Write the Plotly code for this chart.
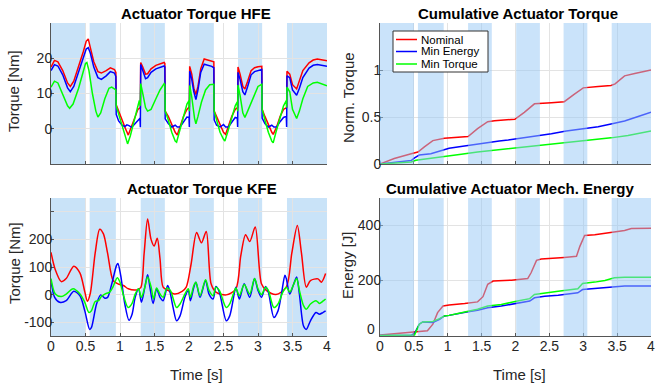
import plotly.graph_objects as go

# ---------------- data ----------------
series_names = ["Nominal", "Min Energy", "Min Torque"]
series_colors = ["#ff0000", "#0000ff", "#00ff00"]

stance_start = [0.0, 0.56, 1.30, 2.01, 2.71, 3.42]
stance_end = [0.50, 0.94, 1.65, 2.36, 3.06, 4.00]

x_ticks = [0, 0.5, 1, 1.5, 2, 2.5, 3, 3.5, 4]

# Actuator Torque HFE [Nm]
hfe_nom_t = [0.00, 0.05, 0.10, 0.17, 0.24, 0.28, 0.33, 0.40, 0.47, 0.51, 0.54, 0.57, 0.62, 0.68, 0.73, 0.80, 0.86, 0.92, 0.94,
             0.945, 0.98, 1.03, 1.08, 1.12, 1.17, 1.22, 1.26, 1.295,
             1.30, 1.33, 1.37, 1.40, 1.45, 1.52, 1.58, 1.64, 1.65,
             1.655, 1.70, 1.75, 1.80, 1.83, 1.87, 1.92, 1.97, 2.005,
             2.01, 2.04, 2.07, 2.10, 2.13, 2.17, 2.22, 2.28, 2.33, 2.36,
             2.365, 2.40, 2.45, 2.50, 2.53, 2.57, 2.62, 2.67, 2.705,
             2.71, 2.74, 2.78, 2.81, 2.85, 2.90, 2.95, 3.00, 3.055,
             3.06, 3.10, 3.15, 3.20, 3.22, 3.27, 3.32, 3.37, 3.415,
             3.42, 3.46, 3.50, 3.56, 3.60, 3.65, 3.74, 3.80, 3.86, 3.93, 4.00]
hfe_nom = [17.5, 19.4, 19.0, 16.5, 13.0, 12.0, 13.5, 17.5, 22.0, 24.8, 25.5, 23.0, 19.0, 16.2, 15.8, 16.5, 17.3, 16.8, 16.0,
           6.8, 5.0, 2.0, 0.0, -1.8, 1.0, 3.5, 5.5, 6.0,
           18.8, 17.5, 15.5, 15.6, 17.0, 18.0, 18.5, 18.8, 18.5,
           5.0, 3.5, 1.0, -1.0, -1.8, 0.5, 3.5, 5.5, 6.2,
           17.7, 15.5, 11.5, 9.7, 12.0, 17.0, 19.8, 19.5, 19.2, 19.0,
           5.0, 3.5, 1.0, -1.0, -1.6, 0.5, 3.5, 5.5, 6.0,
           17.5, 15.5, 12.0, 11.3, 13.5, 16.5, 17.3, 17.6, 17.7,
           5.5, 3.5, 1.0, -1.0, -1.6, 0.5, 3.5, 5.5, 6.0,
           16.3, 15.5, 12.5, 11.3, 13.5, 16.5, 18.7, 19.5, 19.8, 19.6, 19.3]

hfe_men_t = [0.00, 0.05, 0.10, 0.17, 0.24, 0.28, 0.33, 0.40, 0.47, 0.51, 0.54, 0.57, 0.62, 0.68, 0.73, 0.80, 0.86, 0.92, 0.94,
             0.945, 0.98, 1.03, 1.07, 1.10, 1.13, 1.17, 1.22, 1.27, 1.29, 1.295,
             1.30, 1.33, 1.37, 1.40, 1.45, 1.52, 1.58, 1.64, 1.65,
             1.655, 1.70, 1.75, 1.80, 1.83, 1.87, 1.92, 1.97, 2.00, 2.005,
             2.01, 2.04, 2.07, 2.10, 2.13, 2.17, 2.22, 2.28, 2.33, 2.36,
             2.365, 2.40, 2.45, 2.50, 2.53, 2.57, 2.62, 2.67, 2.70, 2.705,
             2.71, 2.74, 2.78, 2.81, 2.85, 2.90, 2.95, 3.00, 3.055,
             3.06, 3.10, 3.15, 3.20, 3.23, 3.27, 3.32, 3.37, 3.41, 3.415,
             3.42, 3.46, 3.50, 3.56, 3.60, 3.65, 3.74, 3.80, 3.86, 3.93, 4.00]
hfe_men = [16.5, 18.2, 17.8, 15.3, 11.6, 10.5, 12.0, 16.0, 20.5, 22.6, 23.0, 21.5, 17.5, 14.5, 14.0, 15.0, 16.2, 15.8, 14.8,
           4.1, 2.2, 1.0, 0.6, 1.1, 0.9, 0.4, 1.5, 2.8, 3.0, 0.4,
           18.2, 16.5, 14.2, 14.5, 16.0, 17.0, 17.5, 17.8, 17.5,
           2.8, 1.5, 0.5, 1.0, 0.5, 0.5, 2.0, 3.3, 3.2, 0.5,
           16.3, 14.0, 10.5, 8.3, 11.0, 16.0, 18.3, 18.0, 17.7, 17.3,
           2.5, 1.0, 0.5, 1.2, 0.5, 0.5, 2.0, 3.2, 3.0, 0.5,
           16.0, 14.0, 10.5, 9.6, 12.0, 15.3, 16.2, 16.5, 16.8,
           3.0, 1.5, 0.5, 1.0, 0.5, 0.5, 2.0, 3.2, 3.5, 0.5,
           15.0, 14.5, 11.0, 9.5, 11.5, 14.5, 17.2, 18.0, 18.2, 17.9, 17.7]

hfe_mtq_t = [0.00, 0.05, 0.10, 0.17, 0.24, 0.27, 0.32, 0.40, 0.46, 0.50, 0.52, 0.55, 0.60, 0.65, 0.68, 0.72, 0.78, 0.84, 0.88, 0.94,
             0.945, 1.00, 1.05, 1.09, 1.11, 1.15, 1.20, 1.25, 1.28, 1.295,
             1.30, 1.33, 1.37, 1.40, 1.45, 1.52, 1.58, 1.64, 1.65,
             1.655, 1.70, 1.75, 1.80, 1.82, 1.86, 1.92, 1.97, 2.00, 2.005,
             2.01, 2.04, 2.08, 2.10, 2.13, 2.18, 2.24, 2.30, 2.36,
             2.365, 2.40, 2.45, 2.50, 2.52, 2.56, 2.62, 2.67, 2.70, 2.705,
             2.71, 2.74, 2.78, 2.81, 2.85, 2.90, 2.96, 3.00, 3.055,
             3.06, 3.10, 3.15, 3.20, 3.22, 3.26, 3.32, 3.37, 3.41, 3.415,
             3.42, 3.46, 3.50, 3.56, 3.60, 3.65, 3.72, 3.80, 3.86, 3.93, 4.00]
hfe_mtq = [11.8, 13.5, 13.0, 10.0, 6.5, 5.8, 7.0, 11.5, 15.5, 18.5, 18.8, 16.5, 10.0, 5.0, 3.3, 4.5, 8.5, 11.5, 11.8, 11.0,
           6.5, 3.0, 0.0, -3.0, -4.3, -2.0, 2.0, 6.0, 8.0, 6.5,
           12.8, 10.0, 6.0, 5.0, 5.5, 8.5, 11.0, 12.8, 12.5,
           5.0, 2.5, -1.0, -3.5, -3.8, -1.0, 3.5, 7.0, 8.0, 5.0,
           12.3, 9.0, 3.0, 1.4, 3.5, 7.5, 11.0, 12.5, 12.6,
           5.0, 2.5, -1.0, -3.0, -3.5, -1.0, 3.5, 6.5, 7.6, 5.0,
           12.4, 9.5, 4.5, 3.2, 5.0, 7.5, 10.5, 12.0, 12.6,
           5.5, 2.5, -1.0, -3.5, -4.0, -1.0, 3.5, 6.5, 8.0, 6.0,
           11.8, 10.5, 5.5, 2.9, 5.0, 8.5, 12.0, 13.0, 13.2, 12.6, 12.2]

# Actuator Torque KFE [Nm]
kfe_nom_t = [0.00, 0.06, 0.15, 0.22, 0.33, 0.42, 0.49, 0.527, 0.57, 0.64, 0.706, 0.76, 0.82, 0.90, 0.97, 1.05, 1.12, 1.24,
             1.30, 1.35, 1.40, 1.45, 1.495, 1.54, 1.58, 1.625, 1.70, 1.79, 1.90, 1.96, 2.03, 2.11, 2.18, 2.25, 2.32,
             2.39, 2.54, 2.68, 2.75, 2.82, 2.88, 2.96, 3.05, 3.12, 3.26, 3.41, 3.49, 3.57, 3.63, 3.70, 3.76, 3.87,
             3.92, 3.98]
kfe_nom = [153, 92, 47, 58, 103, 78, 10, -24, 5, 150, 237, 220, 150, 51, 39, 33, 21, 17,
           25, 150, 274, 200, 176, 204, 130, 27, 15, 2, 12, 27, 110, 225, 188, 229, 39,
           9, -1, 21, 140, 217, 192, 245, 39, 15, 0, 27, 150, 250, 150, 27, 51, 57,
           45, 76]

kfe_men_t = [0.00, 0.053, 0.126, 0.22, 0.33, 0.42, 0.49, 0.56, 0.585, 0.66, 0.72, 0.78, 0.82, 0.875, 0.95, 0.97, 1.01,
             1.07, 1.13, 1.175, 1.22, 1.27, 1.31, 1.36, 1.40, 1.43, 1.48, 1.53, 1.58, 1.625, 1.69, 1.72, 1.77, 1.82,
             1.87, 1.94, 1.99, 2.02, 2.07, 2.10, 2.16, 2.24, 2.29, 2.35, 2.39, 2.44, 2.54, 2.59, 2.66, 2.68, 2.73,
             2.80, 2.88, 2.95, 3.00, 3.05, 3.11, 3.15, 3.23, 3.29, 3.34, 3.39, 3.41, 3.46, 3.51, 3.56, 3.60, 3.66,
             3.70, 3.76, 3.84, 3.89, 3.94, 3.98]
kfe_men = [51, -10, -28, -22, 12, -4, -59, -126, -120, -34, -1, -13, -10, 33, 106, 113, 70,
           -34, -93, -71, -10, 21, -28, 27, 72, 33, -32, 21, -10, -22, 33, 15, -47, -95,
           -77, -10, 15, -22, 27, 45, -10, 51, 2, -16, 29, 9, -95, -77, 9, 27, -16,
           39, -10, 58, 15, -10, 29, 9, -83, -59, 2, 70, 58, 2, 33, 64, 2, -114,
           -126, -95, -65, -71, -65, -59]

kfe_mtq_t = [0.00, 0.063, 0.15, 0.22, 0.32, 0.42, 0.49, 0.55, 0.585, 0.64, 0.69, 0.73, 0.78, 0.85, 0.90, 0.96, 1.00,
             1.045, 1.117, 1.175, 1.22, 1.27, 1.31, 1.36, 1.40, 1.45, 1.485, 1.53, 1.58, 1.625, 1.68, 1.73, 1.82,
             1.87, 1.94, 1.99, 2.02, 2.07, 2.10, 2.16, 2.24, 2.29, 2.35, 2.39, 2.44, 2.54, 2.59, 2.66, 2.68, 2.73,
             2.80, 2.88, 2.95, 3.00, 3.05, 3.11, 3.15, 3.23, 3.29, 3.36, 3.41, 3.46, 3.51, 3.56, 3.60, 3.66, 3.70,
             3.76, 3.84, 3.89, 3.94, 3.98]
kfe_mtq = [58, 2, -7, 2, 21, 2, -28, -65, -59, -25, -22, -7, 2, 9, 29, 61, 45,
           2, -47, -32, 2, 21, -10, 27, 64, 29, -16, 24, 2, -10, 24, 15, -47,
           -34, 2, 21, -10, 33, 45, -4, 54, 15, -4, 27, 15, -47, -34, 15, 24, -4,
           37, 2, 58, 21, 0, 27, 15, -47, -34, 9, 27, 9, 33, 58, 15, -40, -53,
           -34, -22, -32, -24, -16]

# Cumulative Actuator Torque [normalised]
ctq_nom_t = [0, 0.21, 0.46, 0.56, 0.655, 0.78, 0.95, 1.15, 1.30, 1.44, 1.59, 1.69, 1.99, 2.13, 2.28, 2.53, 2.72,
             2.87, 3.00, 3.22, 3.41, 3.47, 3.61, 3.76, 3.95, 4.0]
ctq_nom = [0, 0.059, 0.11, 0.128, 0.183, 0.249, 0.275, 0.286, 0.293, 0.377, 0.45, 0.46, 0.476, 0.55, 0.64, 0.652, 0.663,
           0.744, 0.81, 0.824, 0.835, 0.853, 0.938, 0.963, 0.99, 1.0]
ctq_men_t = [0, 0.21, 0.46, 0.51, 0.58, 0.75, 0.93, 1.02, 1.17, 1.30, 1.49, 1.67, 1.76, 1.89, 2.03, 2.28, 2.53, 2.75,
             2.97, 3.22, 3.41, 3.61, 3.81, 4.0]
ctq_men = [0, 0.015, 0.037, 0.066, 0.095, 0.11, 0.147, 0.168, 0.183, 0.198, 0.22, 0.238, 0.245, 0.256, 0.27, 0.293,
           0.322, 0.352, 0.374, 0.396, 0.425, 0.458, 0.505, 0.55]
ctq_mtq_t = [0, 0.46, 0.53, 0.75, 0.95, 1.20, 1.44, 1.69, 1.94, 2.18, 2.43, 2.67, 2.92, 3.17, 3.41, 3.66, 4.0]
ctq_mtq = [0, 0.022, 0.04, 0.059, 0.077, 0.103, 0.128, 0.147, 0.165, 0.183, 0.20, 0.22, 0.242, 0.26, 0.278, 0.304, 0.35]

# Cumulative Actuator Mech. Energy [J]
cen_nom_t = [0, 0.26, 0.48, 0.70, 0.78, 0.85, 0.93, 1.02, 1.25, 1.44, 1.52, 1.59, 1.67, 1.94, 2.18, 2.23, 2.31, 2.38,
             2.72, 2.90, 2.95, 3.02, 3.17, 3.32, 3.41, 3.61, 3.71, 4.0]
cen_nom = [2, 8, 13, 17, 41, 83, 107, 111, 116, 122, 141, 186, 198, 201, 207, 228, 273, 278,
           284, 288, 324, 364, 366, 372, 376, 382, 389, 390]
cen_men_t = [0, 0.46, 0.51, 0.58, 0.63, 0.78, 0.88, 0.95, 1.02, 1.15, 1.30, 1.44, 1.59, 1.79, 2.03, 2.21, 2.28, 2.43,
             2.63, 2.92, 2.99, 3.17, 3.32, 3.46, 3.61, 4.0]
cen_men = [0, 0, 8, 41, 49, 47, 59, 71, 73, 80, 86, 92, 101, 107, 116, 125, 137, 143,
           146, 155, 167, 170, 173, 176, 180, 180]
cen_mtq_t = [0, 0.46, 0.51, 0.58, 0.63, 0.78, 0.88, 0.95, 1.02, 1.15, 1.30, 1.44, 1.59, 1.79, 2.03, 2.21, 2.28, 2.43,
             2.63, 2.92, 2.99, 3.17, 3.32, 3.46, 3.61, 4.0]
cen_mtq = [0, 0, 2, 41, 49, 51, 61, 71, 73, 80, 87, 95, 107, 113, 125, 134, 149, 155,
           161, 170, 189, 194, 200, 210, 212, 212]

# ---------------- figure ----------------
W, H = 656, 383
FONT = "Liberation Sans, Arial, Helvetica, sans-serif"
TXT = "#262626"


def fx(p):
    return p / W


def fy(p):
    return 1 - p / H


fig = go.Figure()

panels = [
    ("x", "y", [(hfe_nom_t, hfe_nom), (hfe_men_t, hfe_men), (hfe_mtq_t, hfe_mtq)], "linear", "below"),
    ("x2", "y2", [(ctq_nom_t, ctq_nom), (ctq_men_t, ctq_men), (ctq_mtq_t, ctq_mtq)], "linear", "above"),
    ("x3", "y3", [(kfe_nom_t, kfe_nom), (kfe_men_t, kfe_men), (kfe_mtq_t, kfe_mtq)], "spline", "below"),
    ("x4", "y4", [(cen_nom_t, cen_nom), (cen_men_t, cen_men), (cen_mtq_t, cen_mtq)], "linear", "above"),
]

shapes = []
for xa, ya, series, shape, layer in panels:
    for (tt, vv), name, col in zip(series, series_names, series_colors):
        line = dict(color=col, width=1.5, shape=shape)
        if shape == "spline":
            line["smoothing"] = 0.8
        fig.add_trace(go.Scatter(x=tt, y=vv, mode="lines", name=name, xaxis=xa, yaxis=ya,
                                 line=line, showlegend=False, hoverinfo="skip"))
    for s0, s1 in zip(stance_start, stance_end):
        if layer == "below":
            shapes.append(dict(type="rect", xref=xa, yref=ya + " domain", x0=s0, x1=s1, y0=0, y1=1,
                               fillcolor="#c9e3f8", line=dict(width=0), layer="below"))
        else:
            shapes.append(dict(type="rect", xref=xa, yref=ya + " domain", x0=s0, x1=s1, y0=0, y1=1,
                               fillcolor="rgb(150,200,245)", opacity=0.5, line=dict(width=0), layer="above"))

# custom legend (top-right panel)
shapes.append(dict(type="rect", xref="paper", yref="paper", x0=fx(393), x1=fx(488), y0=fy(72), y1=fy(31),
                   fillcolor="white", line=dict(color="#333333", width=1), layer="above"))
annotations = []
for i, (name, col) in enumerate(zip(series_names, series_colors)):
    yy = [39.5, 51.5, 64][i]
    shapes.append(dict(type="line", xref="paper", yref="paper", x0=fx(396), x1=fx(417), y0=fy(yy), y1=fy(yy),
                       line=dict(color=col, width=1.5), layer="above"))
    annotations.append(dict(xref="paper", yref="paper", x=fx(419), y=fy(yy), text=name, showarrow=False,
                            xanchor="left", yanchor="middle", font=dict(family=FONT, size=11.5, color="#000000")))

# titles
for txt, cx, cy in [("Actuator Torque HFE", 196, 13), ("Cumulative Actuator Torque", 518, 13),
                    ("Actuator Torque KFE", 202, 188), ("Cumulative Actuator Mech. Energy", 510, 188)]:
    annotations.append(dict(xref="paper", yref="paper", x=fx(cx), y=fy(cy), text="<b>%s</b>" % txt,
                            showarrow=False, xanchor="center", yanchor="middle",
                            font=dict(family=FONT, size=15, color="#000000")))
# axis labels
for txt, cx, cy, ang in [("Torque [Nm]", 14, 91, -90), ("Norm. Torque", 349, 98, -90),
                         ("Torque [Nm]", 14, 263, -90), ("Energy [J]", 347, 265, -90),
                         ("Time [s]", 196, 374, 0), ("Time [s]", 519, 374, 0)]:
    annotations.append(dict(xref="paper", yref="paper", x=fx(cx), y=fy(cy), text=txt, showarrow=False,
                            xanchor="center", yanchor="middle", textangle=ang,
                            font=dict(family=FONT, size=15, color=TXT)))
# the energy axis "0" label sits slightly raised in the reference (clear of the time-axis "0")
annotations.append(dict(xref="paper", yref="paper", x=fx(377), y=fy(329), text="0", showarrow=False,
                        xanchor="right", yanchor="middle", font=dict(family=FONT, size=14, color=TXT)))

xdom_l = [fx(51), fx(327)]
xdom_r = [fx(380), fx(651)]
ydom_t = [fy(164), fy(23)]
ydom_b = [fy(336), fy(198)]

axis_common = dict(showline=True, linecolor="#555555", linewidth=1, ticks="inside", ticklen=3,
                   tickcolor="#555555", showgrid=True, gridcolor="#e3e3e3", gridwidth=1, zeroline=False,
                   tickfont=dict(family=FONT, size=14, color=TXT), mirror=False, fixedrange=True,
                   automargin=False)
xcommon = dict(axis_common, ticklabelstandoff=-3)
ycommon = dict(axis_common, ticklabelstandoff=-5)

fig.update_layout(
    width=W, height=H, margin=dict(l=0, r=0, t=0, b=0, pad=0, autoexpand=False),
    paper_bgcolor="white", plot_bgcolor="white", showlegend=False,
    xaxis=dict(domain=xdom_l, anchor="y", range=[0, 4], tickvals=x_ticks, showticklabels=False, **xcommon),
    yaxis=dict(domain=ydom_t, anchor="x", range=[-10, 30], tickvals=[0, 10, 20], **ycommon),
    xaxis2=dict(domain=xdom_r, anchor="y2", range=[0, 4], tickvals=x_ticks, showticklabels=False, **xcommon),
    yaxis2=dict(domain=ydom_t, anchor="x2", range=[0, 1.5], tickvals=[0, 0.5, 1], ticktext=["0", "0.5", "1"],
                **ycommon),
    xaxis3=dict(domain=xdom_l, anchor="y3", range=[0, 4], tickvals=x_ticks, **xcommon),
    yaxis3=dict(domain=ydom_b, anchor="x3", range=[-150, 350], tickvals=[-100, 0, 100, 200, 300],
                ticktext=["-100", "0", "100", "200", ""], **ycommon),
    xaxis4=dict(domain=xdom_r, anchor="y4", range=[0, 4], tickvals=x_ticks, **xcommon),
    yaxis4=dict(domain=ydom_b, anchor="x4", range=[-2, 500], tickvals=[0, 200, 400],
                ticktext=["", "200", "400"], **ycommon),
    shapes=shapes, annotations=annotations,
)

fig.write_html("out.html", config={"displayModeBar": False},
               post_script="document.body.style.margin='0px';document.body.style.padding='0px';")
